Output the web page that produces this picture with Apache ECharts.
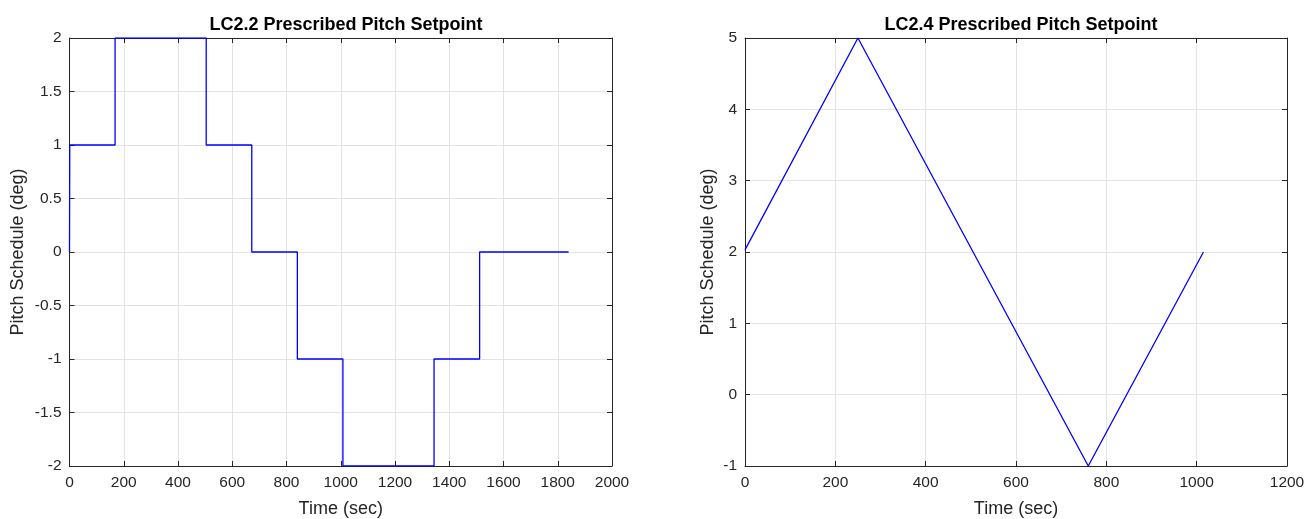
<!DOCTYPE html>
<html>
<head>
<meta charset="utf-8">
<script src="https://cdn.jsdelivr.net/npm/echarts@6/dist/echarts.min.js"></script>
<style>
  html, body { margin: 0; padding: 0; background: #fff; }
  #chart { width: 1316px; height: 519px; }
</style>
</head>
<body>
<div id="chart"></div>
<script>
// LC2.2: step schedule (time of each change, value held from there on)
const lc22Times  = [0, 1, 168, 504, 672, 840, 1008, 1344, 1512, 1840];
const lc22Values = [0, 1, 2, 1, 0, -1, -2, -1, 0, 0];

// LC2.4: triangular ramp schedule (corner points)
const lc24Times  = [0, 250, 760, 1015];
const lc24Values = [2.03, 5, -1, 2];

const lc22XTicks = { min: 0, max: 2000, interval: 200 };
const lc22YTicks = { min: -2, max: 2, interval: 0.5 };
const lc24XTicks = { min: 0, max: 1200, interval: 200 };
const lc24YTicks = { min: -1, max: 5, interval: 1 };

const titles = ['LC2.2 Prescribed Pitch Setpoint', 'LC2.4 Prescribed Pitch Setpoint'];
const xName = 'Time (sec)';
const yName = 'Pitch Schedule (deg)';

const FONT = '"Liberation Sans", Arial, Helvetica, sans-serif';
const INK = '#262626';
const GRID_COLOR = '#e3e3e3';
const TICK_FONT = 15.5;
const NAME_FONT = 18;

function pairs(xs, ys) { return xs.map((x, i) => [x, ys[i]]); }
const plain = v => String(v);

function mainX(gridIndex, t, nameGap) {
  return {
    type: 'value', gridIndex, position: 'bottom',
    min: t.min, max: t.max, interval: t.interval,
    name: xName, nameLocation: 'middle', nameGap,
    nameTextStyle: { fontFamily: FONT, fontSize: NAME_FONT, color: INK },
    axisLine: { show: true, onZero: false, lineStyle: { color: INK, width: 1 } },
    axisTick: { show: true, inside: true, length: 5, lineStyle: { color: INK } },
    axisLabel: { fontFamily: FONT, fontSize: TICK_FONT, color: INK, margin: 9, formatter: plain },
    splitLine: { show: true, lineStyle: { color: GRID_COLOR, width: 1 } }
  };
}
function boxX(gridIndex, t) {
  return {
    type: 'value', gridIndex, position: 'top',
    min: t.min, max: t.max, interval: t.interval,
    axisLine: { show: true, onZero: false, lineStyle: { color: INK, width: 1 } },
    axisTick: { show: true, inside: true, length: 5, lineStyle: { color: INK } },
    axisLabel: { show: false },
    splitLine: { show: false }
  };
}
function mainY(gridIndex, t, nameGap) {
  return {
    type: 'value', gridIndex, position: 'left',
    min: t.min, max: t.max, interval: t.interval,
    name: yName, nameLocation: 'middle', nameGap,
    nameTextStyle: { fontFamily: FONT, fontSize: NAME_FONT, color: INK },
    axisLine: { show: true, onZero: false, lineStyle: { color: INK, width: 1 } },
    axisTick: { show: true, inside: true, length: 5, lineStyle: { color: INK } },
    axisLabel: { fontFamily: FONT, fontSize: TICK_FONT, color: INK, margin: 8, formatter: plain },
    splitLine: { show: true, lineStyle: { color: GRID_COLOR, width: 1 } }
  };
}
function boxY(gridIndex, t) {
  return {
    type: 'value', gridIndex, position: 'right',
    min: t.min, max: t.max, interval: t.interval,
    axisLine: { show: true, onZero: false, lineStyle: { color: INK, width: 1 } },
    axisTick: { show: true, inside: true, length: 5, lineStyle: { color: INK } },
    axisLabel: { show: false },
    splitLine: { show: false }
  };
}

const chart = echarts.init(document.getElementById('chart'), null, { renderer: 'canvas' });

chart.setOption({
  animation: false,
  backgroundColor: '#ffffff',
  title: [
    { text: titles[0], left: 341, top: 11, textAlign: 'center',
      textStyle: { fontFamily: FONT, fontSize: 18, fontWeight: 'bold', color: '#000' } },
    { text: titles[1], left: 1016, top: 11, textAlign: 'center',
      textStyle: { fontFamily: FONT, fontSize: 18, fontWeight: 'bold', color: '#000' } }
  ],
  grid: [
    { left: 69.5, top: 38, width: 542.5, height: 428, containLabel: false, outerBoundsMode: 'none' },
    { left: 745, top: 38, width: 542, height: 428, containLabel: false, outerBoundsMode: 'none' }
  ],
  xAxis: [
    mainX(0, lc22XTicks, 34), boxX(0, lc22XTicks),
    mainX(1, lc24XTicks, 34), boxX(1, lc24XTicks)
  ],
  yAxis: [
    mainY(0, lc22YTicks, 42), boxY(0, lc22YTicks),
    mainY(1, lc24YTicks, 28), boxY(1, lc24YTicks)
  ],
  series: [
    {
      type: 'line', xAxisIndex: 0, yAxisIndex: 0, step: 'end',
      data: pairs(lc22Times, lc22Values),
      showSymbol: false, symbol: 'none',
      lineStyle: { color: '#0000ff', width: 1.3 }
    },
    {
      type: 'line', xAxisIndex: 2, yAxisIndex: 2,
      data: pairs(lc24Times, lc24Values),
      showSymbol: false, symbol: 'none',
      lineStyle: { color: '#0000ff', width: 1.3 }
    }
  ]
});
</script>
</body>
</html>
